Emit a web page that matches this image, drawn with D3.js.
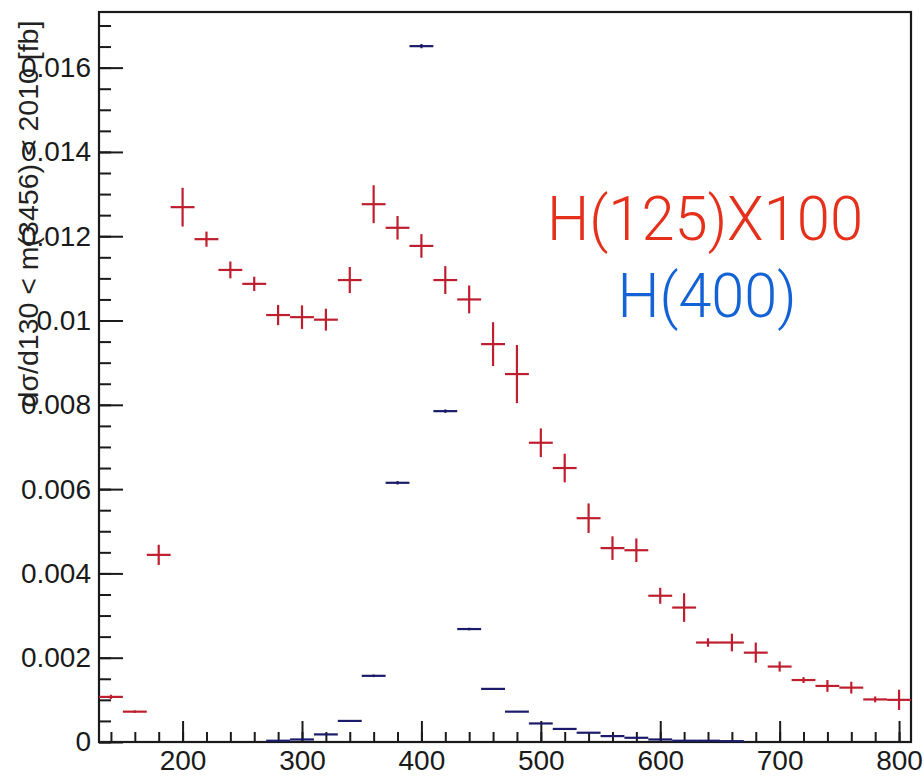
<!DOCTYPE html>
<html>
<head>
<meta charset="utf-8">
<script src="https://cdn.jsdelivr.net/npm/d3@7"></script>
<style>
  html, body { margin: 0; padding: 0; background: #fff; }
  svg { display: block; }
</style>
</head>
<body>
<svg id="chart" width="924" height="777"></svg>
<script>
// Bin centres (20-unit wide bins from 130 to 810)
const binCenters = [140,160,180,200,220,240,260,280,300,320,340,360,380,400,420,440,460,480,
                    500,520,540,560,580,600,620,640,660,680,700,720,740,760,780,800];
const binWidth = 20;

// H(125) x 100 : value and statistical error per bin
const h125Values = [0.00107,0.00072,0.00444,0.01269,0.01193,0.01120,0.01087,0.01013,0.01008,0.01002,
                    0.01096,0.01276,0.01220,0.01177,0.01096,0.01050,0.00944,0.00873,0.00710,0.00650,
                    0.00531,0.00460,0.00455,0.00347,0.00319,0.00236,0.00236,0.00212,0.00179,0.00147,
                    0.00133,0.00129,0.00101,0.00100];
const h125Errors = [0.00005,0.00003,0.00024,0.00046,0.00018,0.00020,0.00017,0.00024,0.00028,0.00026,
                    0.00031,0.00045,0.00028,0.00028,0.00033,0.00033,0.00052,0.00069,0.00034,0.00034,
                    0.00035,0.00028,0.00028,0.00019,0.00034,0.00010,0.00021,0.00024,0.00012,0.00007,
                    0.00014,0.00014,0.00007,0.00024];

// H(400) : filled bins only
const h400Centers = [280,300,320,340,360,380,400,420,440,460,480,500,520,540,560,580,600,620,640,660];
const h400Values  = [0.00003,0.00006,0.00018,0.00050,0.00157,0.00615,0.01651,0.00785,0.00268,0.00126,
                     0.00072,0.00044,0.00031,0.00022,0.00014,0.00010,0.00006,0.00003,0.00003,0.00002];
const h400Errors  = [0.00001,0.00001,0.00001,0.00002,0.00003,0.00004,0.00005,0.00004,0.00003,0.00002,
                     0.00001,0.00001,0.00001,0.00001,0.00001,0.00001,0.00001,0.00001,0.00001,0.00001];

// Axis ticks
const xMajorTicks = [200,300,400,500,600,700,800];
const xMinorTicks = d3.range(140, 801, 20);
const yMajorTicks = [0,0.002,0.004,0.006,0.008,0.010,0.012,0.014,0.016];
const yTickLabels = ["0","0.002","0.004","0.006","0.008","0.01","0.012","0.014","0.016"];
const yMinorTicks = d3.range(0, 0.01726, 0.0005);

const yTitle = "dσ/d130 < m(3456) < 2010 [fb]";
const legendLabels = ["H(125)X100", "H(400)"];

const svg = d3.select("#chart");
const frame = { left: 99, right: 911, top: 12, bottom: 742 };

const x = d3.scaleLinear().domain([130, 810]).range([frame.left, frame.right]);
const y = d3.scaleLinear().domain([0, 0.01732]).range([frame.bottom, frame.top]);

const axisFont = "'Liberation Sans', Arial, Helvetica, sans-serif";

// Minor ticks
svg.append("g")
  .attr("transform", `translate(${frame.left},0)`)
  .call(d3.axisLeft(y).tickValues(yMinorTicks).tickSize(-12).tickFormat(""))
  .call(g => g.select(".domain").remove());
svg.append("g")
  .attr("transform", `translate(0,${frame.bottom})`)
  .call(d3.axisBottom(x).tickValues(xMinorTicks).tickSize(-10).tickFormat(""))
  .call(g => g.select(".domain").remove());

// Major ticks with labels
const yAxis = svg.append("g")
  .attr("transform", `translate(${frame.left},0)`)
  .call(d3.axisLeft(y).tickValues(yMajorTicks).tickSize(-24).tickPadding(8)
        .tickFormat((d, i) => yTickLabels[i]));
yAxis.select(".domain").remove();

const xAxis = svg.append("g")
  .attr("transform", `translate(0,${frame.bottom})`)
  .call(d3.axisBottom(x).tickValues(xMajorTicks).tickSize(-21).tickPadding(8)
        .tickFormat(d3.format("d")));
xAxis.select(".domain").remove();

svg.selectAll(".tick line").attr("stroke", "#1a1a1a").attr("stroke-width", 2);
svg.selectAll(".tick text")
  .attr("font-family", axisFont)
  .attr("font-size", 28)
  .attr("fill", "#1a1a1a");

// Frame
svg.append("rect")
  .attr("x", frame.left).attr("y", frame.top)
  .attr("width", frame.right - frame.left).attr("height", frame.bottom - frame.top)
  .attr("fill", "none").attr("stroke", "#1a1a1a").attr("stroke-width", 2.2);

// Data drawn as bin-width horizontal bars with vertical error bars
function drawHist(data, color, width) {
  const g = svg.append("g").attr("stroke", color).attr("stroke-width", width).attr("fill", "none");
  g.selectAll("line.h").data(data).join("line").attr("class", "h")
    .attr("x1", d => x(d.c - binWidth / 2)).attr("x2", d => x(d.c + binWidth / 2))
    .attr("y1", d => y(d.v)).attr("y2", d => y(d.v));
  g.selectAll("line.v").data(data).join("line").attr("class", "v")
    .attr("x1", d => x(d.c)).attr("x2", d => x(d.c))
    .attr("y1", d => y(d.v - d.e)).attr("y2", d => y(d.v + d.e));
}

const h400 = h400Centers.map((c, i) => ({ c, v: h400Values[i], e: h400Errors[i] }));
const h125 = binCenters.map((c, i) => ({ c, v: h125Values[i], e: h125Errors[i] }));
drawHist(h400, "#1b1b6b", 2.2);
drawHist(h125, "#bf1e2e", 2.2);

// Y axis title
svg.append("text")
  .attr("transform", `translate(38,214) rotate(-90)`)
  .attr("text-anchor", "middle")
  .attr("font-family", axisFont)
  .attr("font-size", 28.5)
  .attr("fill", "#222")
  .text(yTitle);

// Legend labels
const legendFont = "Roboto, 'Open Sans', Lato, sans-serif";
svg.append("text")
  .attr("x", 705).attr("y", 240)
  .attr("text-anchor", "middle")
  .attr("font-family", legendFont).attr("font-weight", 300)
  .attr("font-size", 62)
  .attr("textLength", 316).attr("lengthAdjust", "spacingAndGlyphs")
  .attr("fill", "#e5311b")
  .text(legendLabels[0]);
svg.append("text")
  .attr("x", 707).attr("y", 317)
  .attr("text-anchor", "middle")
  .attr("font-family", legendFont).attr("font-weight", 300)
  .attr("font-size", 62)
  .attr("textLength", 179).attr("lengthAdjust", "spacingAndGlyphs")
  .attr("fill", "#1463d6")
  .text(legendLabels[1]);
</script>
</body>
</html>
